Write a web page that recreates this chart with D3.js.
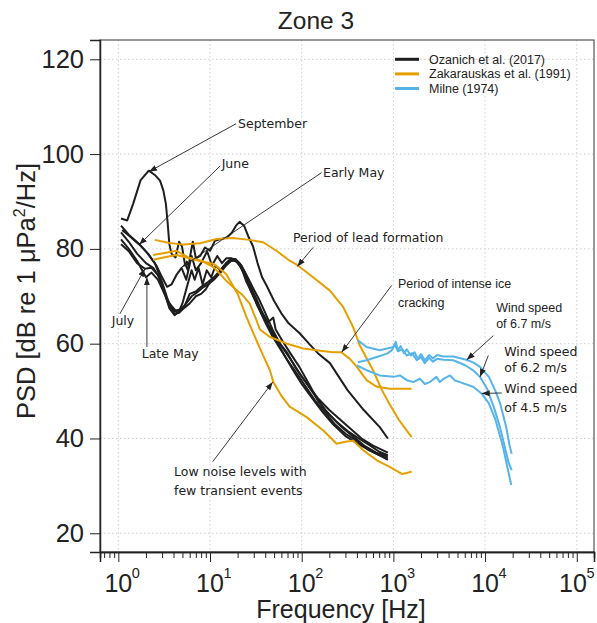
<!DOCTYPE html>
<html>
<head>
<meta charset="utf-8">
<script src="https://cdn.jsdelivr.net/npm/d3@7"></script>
<style>
body { margin: 0; background: #fff; }
svg { display: block; }
.tick-label { font-family: "Liberation Sans", Arial, sans-serif; fill: #222; }
.ann { font-family: "DejaVu Sans", sans-serif; font-size: 12.5px; fill: #222; }
.ann-arial { font-family: "Liberation Sans", Arial, sans-serif; font-size: 12.5px; fill: #222; }
</style>
</head>
<body>
<svg id="chart" width="597" height="623"></svg>
<script>
// ---- data: [frequency Hz, PSD dB] ----
var ozanichSeptember = [[1.07,86.4],[1.25,86],[1.45,89.5],[1.75,94.5],[2.15,96.5],[2.5,95.6],[2.85,94.4],[3.1,92.3],[3.3,89.5],[3.45,85.5],[3.6,81],[3.8,79],[4.2,78.2],[4.6,81.5],[4.95,80.5],[5.3,77],[5.75,75.5],[6.2,79.5],[6.5,81.5],[7,78],[7.8,78.5],[8.8,80.3],[10,79.6],[11.3,81.7],[12.8,82],[15.3,82.4],[17.3,83.4],[19.2,84.9],[21,85.7],[23.5,84.9],[26.5,82.4],[29.5,80.5],[33,77],[37,74],[42,72],[50,69],[60,66.4],[72,64.3],[95,62.2],[120,60],[150,58],[203,55.9],[316,50.2],[475,46],[710,42.4],[870,40]];
var ozanichEarlyMay = [[1.07,84.9],[1.3,83],[1.7,81],[2.1,79],[2.6,76.5],[3.0,74],[3.4,72],[3.8,72.5],[4.3,74.5],[4.9,76],[5.5,73.5],[6.3,78.5],[7,75.5],[8,77],[9.3,79.5],[10.5,76.5],[12,78.5],[13.5,77],[15,78],[17,78],[19,77.5],[21,76.5],[24,74.5],[28,71],[33,68],[40,65],[50,62],[60,59.5],[80,56],[100,53],[150,48.5],[200,46],[300,43],[450,40],[600,38.5],[870,37]];
var ozanichLow = [[1.07,83.5],[1.3,81.5],[1.6,79],[2,77],[2.4,76],[2.8,74],[3.2,70.5],[3.6,68],[4.1,66.3],[4.6,66.5],[5.2,67.5],[6,68.5],[7,70],[8,70.5],[9,71.5],[10,73],[12,74.5],[14,76],[16,77.3],[18,77.6],[20,77.2],[23,75.5],[27,72.5],[32,69.5],[38,66],[45,63],[55,60],[65,57.5],[80,54.5],[100,51.5],[130,48.5],[170,45.5],[220,43],[300,40.5],[400,39],[550,37.5],[700,36.5],[870,35.8]];
var ozanichJuly = [[1.07,81],[1.3,79.5],[1.6,77],[1.95,75.8],[2.3,76],[2.7,74.5],[3.1,71.5],[3.6,67.5],[4.1,66],[4.6,66.8],[5.3,68],[6,70.5],[7,71],[8,72],[9.5,73],[11,74],[13,75.5],[15,77],[17,77.8],[19,77.8],[21,77],[24,75],[28,71.5],[33,68],[40,64.5],[48,61.5],[58,59],[70,56.5],[90,53.5],[110,51],[140,48],[180,45.5],[230,43],[300,41],[400,39.5],[550,37.5],[700,36.5],[870,35.5]];
var ozanichLateMay = [[1.07,82],[1.3,80],[1.6,77.5],[2.0,74],[2.3,75],[2.7,73.5],[3.1,71],[3.6,68.5],[4.2,67],[4.8,67.2],[5.5,68.5],[6.3,70],[7.2,70.8],[8.3,71.8],[9.5,72.5],[11,73.5],[13,75],[15,76.5],[17,77.5],[19.5,77.5],[22,76.5],[25,74.5],[29,72],[34,69.5],[40,66.5],[48,63],[58,60],[70,58],[85,55],[110,52],[140,49],[180,46],[240,43.5],[320,41.5],[420,40],[560,38.5],[700,37.2],[870,36.5]];
var ozanichJune = [[1.1,84],[1.3,82.8],[1.7,80.9],[2.1,79],[2.5,77],[3,73],[3.5,69],[4,67],[4.5,66.5],[5,68.5],[5.6,72],[6.3,75.5],[6.8,73.5],[7.5,76],[8.3,72.5],[9.2,75.5],[10.3,74],[11.5,76.5],[13,75.5],[15,77],[17,78],[19,77.8],[22,76],[25,73],[30,70],[36,67],[43,64.5],[49,65.5],[52,63],[62,60.5],[75,58],[95,55],[120,51.5],[150,48],[200,45],[270,42.5],[360,40.5],[480,38.5],[650,37],[870,36.2]];

var zakLead = [[2.5,81.9],[3.5,81.3],[5.1,80.9],[7.8,81.2],[11.8,82.1],[17.8,82.3],[27,81.9],[38,81.4],[53,79.6],[74,77.5],[91,76.5],[133,74],[203,71.2],[284,67.7],[364,63.5],[430,59.6],[600,54.4],[750,50.2],[900,47.4],[1150,43.9],[1580,40.3]];
var zakCracking = [[2.4,78.7],[3.3,79.2],[4.3,79.6],[5.8,78.2],[8,77.5],[11,76.1],[15,73.3],[19,71.5],[22,70.5],[27,68.5],[32,65],[35,63],[45,61.4],[69,60],[104,59],[146,58.6],[218,58.2],[270,58.2],[335,56.8],[400,55.1],[510,52.3],[660,50.9],[910,50.5],[1580,50.5]];
var zakLowNoise = [[2.4,77.7],[3.3,78.3],[4.3,78.7],[5.5,78.2],[7.5,77.5],[11,76.8],[15,74.7],[20,70.5],[25,65.6],[30,62],[38,57.5],[45,54.4],[49,51.9],[60,49],[74,46.7],[113,44.5],[172,41.7],[240,38.9],[300,39.3],[364,39.5],[470,37.5],[660,35.4],[910,34],[1250,32.5],[1580,33]];

var milne67 = [[410,60.7],[510,59.3],[710,58.6],[1000,59.3],[1060,60.4],[1120,58.6],[1200,59.5],[1300,58],[1400,58.8],[1550,57.5],[1700,58.2],[1850,56.8],[2000,57.8],[2200,56.5],[2450,57.6],[2700,56.9],[3000,57.6],[3500,57.3],[4500,57.3],[6250,56.6],[7500,56],[8800,55.1],[11000,53],[13000,50],[14600,47.4],[17000,42.4],[18500,38.5],[19500,36.8]];
var milne62 = [[410,56.1],[510,56.5],[660,57.2],[850,57.9],[960,58.6],[1040,59.8],[1120,58.4],[1250,58.8],[1400,57.5],[1600,58],[1800,56.5],[2000,57.2],[2200,55.9],[2450,57],[2700,56.2],[3000,56.8],[3500,56.6],[4500,56.5],[6000,55.5],[7500,54.3],[8800,53],[10500,50.5],[12500,46.5],[14500,42.5],[16500,38],[18000,35],[19500,33.3]];
var milne45 = [[400,55.4],[510,54.4],[710,53.3],[1000,53],[1180,53.3],[1400,52.3],[1650,51.9],[1950,52.6],[2200,51.5],[2500,51.9],[2950,53],[3200,51.9],[3600,52.7],[4150,53.3],[4700,52.2],[5300,51.9],[7400,50.9],[9150,49.5],[11000,47.4],[13000,43.9],[15700,38.2],[17800,33.3],[19300,30.2]];

var legendLabels = ['Ozanich et al. (2017)', 'Zakarauskas et al. (1991)', 'Milne (1974)'];
var colors = ['#1e1e1e', '#E69F00', '#56B4E9'];
var yTicks = [20, 40, 60, 80, 100, 120];
var xTickExps = [0, 1, 2, 3, 4, 5];

// annotations: text lines, text anchor [Hz, dB], arrow start and tip [Hz, dB]
var annotations = [
  {lines: ['September'], at: [20.2, 106.4], from: [19.2, 106.4], to: [2.16, 96.3], cls: 'ann'},
  {lines: ['June'], at: [13.4, 98.1], from: [12.9, 97.5], to: [1.69, 80.9], cls: 'ann'},
  {lines: ['Early May'], at: [171, 96.1], from: [165, 96.1], to: [4.95, 76.2], cls: 'ann'},
  {lines: ['Period of lead formation'], at: [80.4, 82.4], from: [133, 80.3], to: [89.5, 76.3], cls: 'ann'},
  {lines: ['Period of intense ice', 'cracking'], at: [1122, 72.8], gap: 19.4, from: [958, 72.3], to: [273, 58.2], cls: 'ann-arial'},
  {lines: ['Wind speed', 'of 6.7 m/s'], at: [13200, 67.6], gap: 16, from: [12300, 61.7], to: [6310, 56.6], cls: 'ann-arial'},
  {lines: ['Wind speed', 'of 6.2 m/s'], at: [16200, 58.4], gap: 16, from: [10840, 57.5], to: [8810, 53], cls: 'ann'},
  {lines: ['Wind speed', 'of 4.5 m/s'], at: [16200, 50.5], gap: 19, from: [15200, 49.6], to: [9180, 49.5], cls: 'ann'},
  {lines: ['July'], at: [0.847, 64.9], from: [1.04, 66.3], to: [1.95, 75.8], cls: 'ann'},
  {lines: ['Late May'], at: [1.8, 57.9], from: [2.05, 59.3], to: [2.05, 74], cls: 'ann'},
  {lines: ['Low noise levels with', 'few transient events'], at: [4.05, 33], gap: 19, from: [10.7, 35.1], to: [48.3, 51.9], cls: 'ann'}
];

var groups = [
  [ozanichSeptember, ozanichEarlyMay, ozanichLow, ozanichJuly, ozanichLateMay, ozanichJune],
  [zakLead, zakCracking, zakLowNoise],
  [milne67, milne62, milne45]
];

// ---- layout ----
var svg = d3.select('#chart');
var margin = {top: 40, right: 3, bottom: 71, left: 100};
var W = 597 - margin.left - margin.right;
var H = 623 - margin.top - margin.bottom;

var x = d3.scaleLog()
  .domain([Math.pow(10, -0.2), Math.pow(10, 5.188)])
  .range([margin.left, margin.left + W]);
var y = d3.scaleLinear()
  .domain([16.05, 124.07])
  .range([margin.top + H, margin.top]);

// grid
var grid = svg.append('g');
grid.selectAll('.gx')
  .data(xTickExps).enter()
  .append('line')
  .attr('x1', function(d) { return x(Math.pow(10, d)); })
  .attr('x2', function(d) { return x(Math.pow(10, d)); })
  .attr('y1', margin.top).attr('y2', margin.top + H)
  .attr('stroke', '#cfcfcf').attr('stroke-dasharray', '1.5,2.5');
grid.selectAll('.gy')
  .data(yTicks).enter()
  .append('line')
  .attr('y1', function(d) { return y(d); })
  .attr('y2', function(d) { return y(d); })
  .attr('x1', margin.left).attr('x2', margin.left + W)
  .attr('stroke', '#cfcfcf').attr('stroke-dasharray', '1.5,2.5');

// frame
svg.append('rect')
  .attr('x', margin.left).attr('y', margin.top)
  .attr('width', W).attr('height', H)
  .attr('fill', 'none').attr('stroke', '#333').attr('stroke-width', 1);

// x axis: major + minor ticks
var minors = [];
for (var e = -1; e < 5; e++) {
  for (var k = 2; k <= 9; k++) {
    var v = k * Math.pow(10, e);
    if (v > x.domain()[0] && v < x.domain()[1]) minors.push(v);
  }
}
var xAxisG = svg.append('g').attr('transform', 'translate(0,' + (margin.top + H) + ')');
xAxisG.call(d3.axisBottom(x).tickValues(minors).tickSize(6).tickFormat(''));
xAxisG.append('g').call(d3.axisBottom(x)
  .tickValues(xTickExps.map(function(d) { return Math.pow(10, d); }))
  .tickSize(10).tickFormat(''));
xAxisG.selectAll('path').attr('stroke', '#222').attr('stroke-width', 1.5);
xAxisG.selectAll('line').attr('stroke', '#222').attr('stroke-width', 1);

// "10" centred on the tick, exponent at its right; the last one is nudged in
function labelX(d) { return Math.min(x(Math.pow(10, d)), 573); }
var xLab = svg.append('g');
xLab.selectAll('.ten')
  .data(xTickExps).enter()
  .append('text')
  .attr('class', 'tick-label')
  .attr('x', labelX)
  .attr('y', 592)
  .attr('text-anchor', 'middle')
  .style('font-size', '25px')
  .text('10');
xLab.selectAll('.exp')
  .data(xTickExps).enter()
  .append('text')
  .attr('class', 'tick-label')
  .attr('x', function(d) { return labelX(d) + 13.5; })
  .attr('y', 578)
  .style('font-size', '14.5px')
  .text(function(d) { return d; });

// y axis
var yAxisG = svg.append('g').attr('transform', 'translate(' + margin.left + ',0)');
yAxisG.call(d3.axisLeft(y).tickValues(yTicks).tickSize(10).tickFormat(''));
yAxisG.selectAll('path').attr('stroke', '#222').attr('stroke-width', 1.5);
yAxisG.selectAll('line').attr('stroke', '#222').attr('stroke-width', 1);
svg.append('g').selectAll('text')
  .data(yTicks).enter()
  .append('text')
  .attr('class', 'tick-label')
  .attr('x', 84)
  .attr('y', function(d) { return y(d) + 8.6; })
  .attr('text-anchor', 'end')
  .style('font-size', '25.5px')
  .text(function(d) { return d; });

// titles
svg.append('text')
  .attr('class', 'tick-label')
  .attr('x', 316).attr('y', 29)
  .attr('text-anchor', 'middle')
  .style('font-size', '24.5px')
  .text('Zone 3');
svg.append('text')
  .attr('class', 'tick-label')
  .attr('x', 341).attr('y', 618)
  .attr('text-anchor', 'middle')
  .style('font-size', '25px')
  .text('Frequency [Hz]');
var yTitle = svg.append('text')
  .attr('class', 'tick-label')
  .attr('transform', 'translate(35,291) rotate(-90)')
  .attr('text-anchor', 'middle')
  .style('font-size', '25.5px');
yTitle.append('tspan').text('PSD [dB re 1 \u03BCPa');
yTitle.append('tspan').attr('dy', -10).style('font-size', '16px').text('2');
yTitle.append('tspan').attr('dy', 10).text('/Hz]');

// curves
var line = d3.line()
  .x(function(d) { return x(d[0]); })
  .y(function(d) { return y(d[1]); });
var plot = svg.append('g');
groups.forEach(function(series, gi) {
  plot.append('g').selectAll('path')
    .data(series).enter()
    .append('path')
    .attr('d', line)
    .attr('fill', 'none')
    .attr('stroke', colors[gi])
    .attr('stroke-width', 2)
    .attr('stroke-linejoin', 'round');
});

// legend
var legend = svg.append('g');
legendLabels.forEach(function(label, i) {
  var ly = 59.3 + i * 14.6;
  legend.append('line')
    .attr('x1', 395).attr('x2', 419)
    .attr('y1', ly).attr('y2', ly)
    .attr('stroke', colors[i]).attr('stroke-width', 3);
  legend.append('text')
    .attr('class', 'ann-arial')
    .attr('x', 429).attr('y', ly + 4.5)
    .text(label);
});

// annotations
svg.append('defs').append('marker')
  .attr('id', 'arrow')
  .attr('viewBox', '0 -4 8 8')
  .attr('refX', 8).attr('refY', 0)
  .attr('markerUnits', 'userSpaceOnUse')
  .attr('markerWidth', 8).attr('markerHeight', 8)
  .attr('orient', 'auto')
  .append('path')
  .attr('d', 'M0,-3L8,0L0,3Z')
  .attr('fill', '#222');

var ann = svg.append('g');
annotations.forEach(function(a) {
  ann.append('line')
    .attr('x1', x(a.from[0])).attr('y1', y(a.from[1]))
    .attr('x2', x(a.to[0])).attr('y2', y(a.to[1]))
    .attr('stroke', '#222').attr('stroke-width', 0.9)
    .attr('marker-end', 'url(#arrow)');
  a.lines.forEach(function(t, i) {
    ann.append('text')
      .attr('class', a.cls)
      .attr('x', x(a.at[0]))
      .attr('y', y(a.at[1]) + i * (a.gap || 0) + 4.5)
      .text(t);
  });
});
</script>
</body>
</html>
